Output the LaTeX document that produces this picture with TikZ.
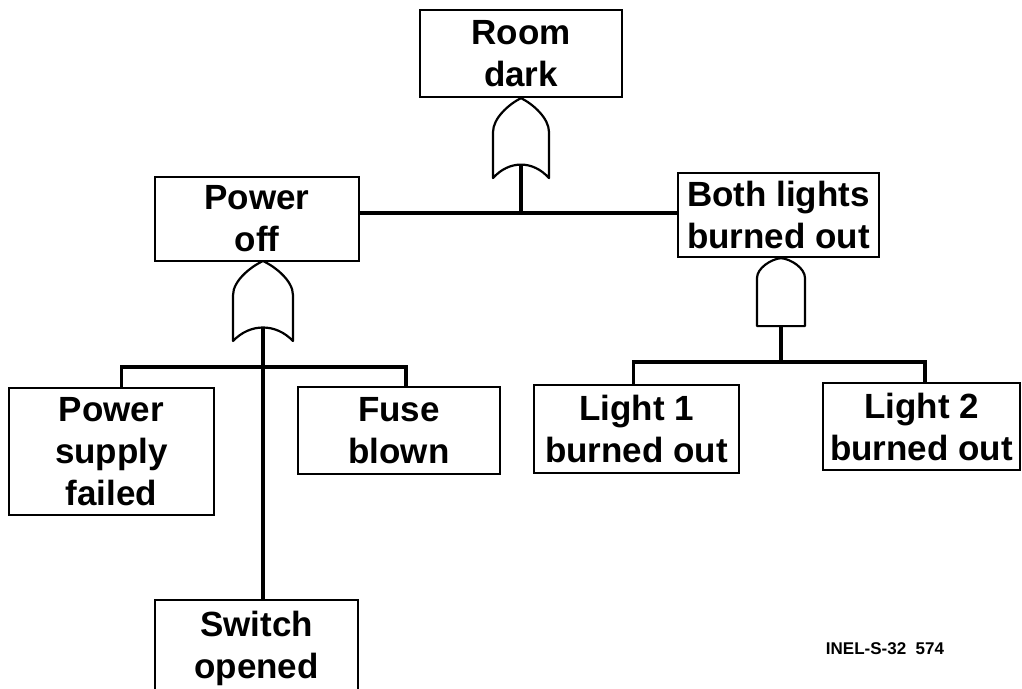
\documentclass[tikz,border=0pt]{standalone}
\usepackage{fontspec}
\setmainfont{Liberation Sans}
\tikzset{
  evbox/.style={draw, line width=2.2pt, inner sep=0pt, align=center,
    font=\fontsize{35}{42}\selectfont\bfseries},
  conn/.style={line width=3.4pt},
  gateline/.style={line width=2.2pt, line join=round},
  orgate/.pic={
    \draw[gateline] (-28,80) -- (-28,34) .. controls (-28,20) and (-12,6) .. (0,0)
      .. controls (12,6) and (28,20) .. (28,34) -- (28,80)
      .. controls (12,62) and (-12,62) .. cycle;
    \coordinate (-bot) at (0,67);
  },
  andgate/.pic={
    \draw[gateline] (-24,68) -- (-24,20) .. controls (-24,10) and (-10,1) .. (0,0)
      .. controls (10,1) and (24,10) .. (24,20) -- (24,68) -- cycle;
    \coordinate (-bot) at (0,68);
  }
}
\begin{document}
\begin{tikzpicture}[x=1pt,y=-1pt]
\useasboundingbox (0,0) rectangle (1022,688);
\clip (0,0) rectangle (1022,688);

\node[evbox, minimum width=202pt, minimum height=87pt] (room) at (521,53.5) {Room\\dark};
\node[evbox, minimum width=204pt, minimum height=84pt] (power) at (257,219) {Power\\off};
\node[evbox, minimum width=201pt, minimum height=84pt] (both) at (778.5,215) {Both lights\\burned out};
\node[evbox, minimum width=205pt, minimum height=127pt] (psf) at (111.5,451.5) {Power\\supply\\failed};
\node[evbox, minimum width=202pt, minimum height=87pt] (fuse) at (399,430.5) {Fuse\\blown};
\node[evbox, minimum width=205pt, minimum height=88pt] (light1) at (636.5,429) {Light 1\\burned out};
\node[evbox, minimum width=197pt, minimum height=87pt] (light2) at (921.5,426.5) {Light 2\\burned out};
\node[evbox, minimum width=203pt, minimum height=96pt] (switch) at (256.5,648) {Switch\\opened};

\node[font=\fontsize{17}{20}\selectfont\bfseries] (inel) at (885,649) {INEL-S-32\ \ 574};

% gate 1 (OR) under Room dark
\pic (g1) at (room.south) {orgate};
\coordinate (j1) at (521,213);
\draw[conn] (g1-bot) -- (j1);
\draw[conn] (power.east |- j1) -- (both.west |- j1);

% gate 2 (OR) under Power off
\pic[xscale=1.07] (g2) at (263,261) {orgate};
\coordinate (j2) at (263,367);
\draw[conn] (g2-bot) -- (g2-bot |- switch.north);
\draw[conn] ([xshift=10pt]psf.north) |- (j2) -| ([xshift=7pt]fuse.north);

% gate 3 (AND) under Both lights
\pic (g3) at ([xshift=2.5pt]both.south) {andgate};
\coordinate (j3) at (781,362);
\draw[conn] (g3-bot) -- (j3);
\draw[conn] ([xshift=-3pt]light1.north) |- (j3) -| ([xshift=3.5pt]light2.north);
\end{tikzpicture}
\end{document}
